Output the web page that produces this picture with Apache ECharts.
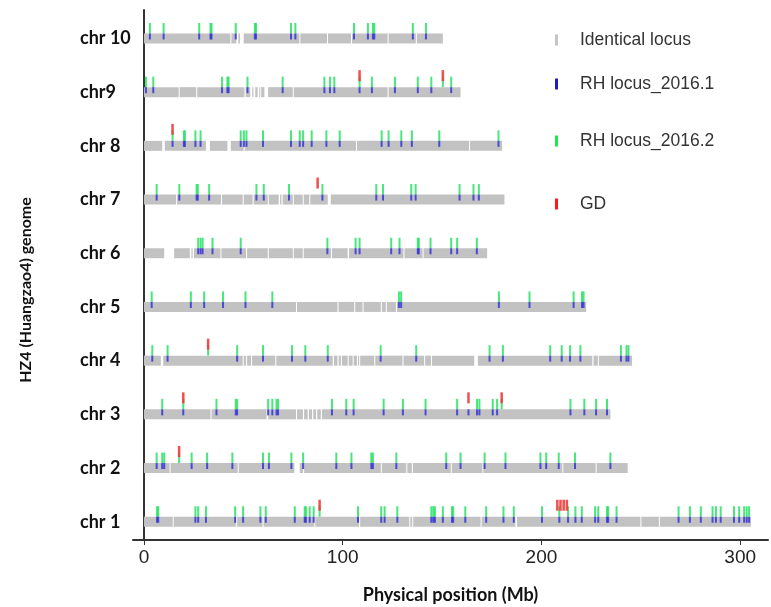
<!DOCTYPE html>
<html>
<head>
<meta charset="utf-8">
<script src="https://cdn.jsdelivr.net/npm/echarts@6/dist/echarts.min.js"></script>
<style>
  html, body { margin: 0; padding: 0; background: #fff; }
  #chart { width: 771px; height: 607px; }
</style>
</head>
<body>
<div id="chart"></div>
<script>
// chromosome labels, bottom (chr 1) to top (chr 10)
var chrNames = ["chr 1", "chr 2", "chr 3", "chr 4", "chr 5", "chr 6", "chr 7", "chr 8", "chr9", "chr 10"];
var xTicks = [0, 100, 200, 300];
var legendNames = ["Identical locus", "RH locus_2016.1", "RH locus_2016.2", "GD"];

// identical locus blocks [start, end] in Mb, one list per chromosome
var segments = [
  [[0,14.5],[15,46.4],[46.9,59.7],[60.2,85.7],[86.2,108.3],[108.8,133.5],[134,135],[135.5,169.4],[169.9,186.9],[187.7,249.8],[250.3,259.1],[259.6,305.4]],
  [[0,12.9],[13.4,47.2],[47.7,75.7],[78.4,80],[80.6,119.2],[119.7,132],[132.5,134.8],[135.3,154.4],[154.9,170.3],[170.8,210.5],[211,227.3],[227.8,243.4]],
  [[0,33.5],[34,61.7],[62.5,76.5],[77,80],[80.6,82.4],[83,84.6],[85.2,86.6],[87.2,89],[89.6,234.7]],
  [[0,8.5],[9.7,49.7],[50.2,51.4],[51.9,53.9],[54.4,66.1],[66.6,95],[95.6,97.4],[98,99.1],[99.6,102.5],[103,105],[105.5,107.2],[107.7,108.3],[108.8,115.9],[116.4,130.1],[130.6,141],[141.5,144.4],[144.9,166.2],[168,225.6],[226.2,228.4],[228.9,245.6]],
  [[0,76.5],[77,97.4],[97.9,105.8],[106.3,110],[110.5,119.2],[119.7,121.7],[122.2,126.8],[127.3,222.5]],
  [[0,10.2],[15.2,23.1],[23.9,24.5],[25.2,38.5],[39,51.4],[51.9,62.3],[62.8,74.9],[75.4,79.9],[80.4,94.1],[94.6,102.5],[103.2,130.6],[131.1,140.2],[140.7,172.7]],
  [[0,16.2],[16.7,38.8],[39.3,49.7],[50.2,54.7],[55.2,62.3],[62.8,67.8],[68.5,69.2],[69.8,74.9],[75.4,79.9],[80.4,83.2],[83.7,92.5],[94,181.4]],
  [[0,9.2],[10.5,31.2],[33.2,42],[43.7,50.2],[50.7,106.7],[107.2,163.6],[164.1,180.2]],
  [[0,17.5],[18,26.3],[26.8,50.6],[51.2,53.5],[54.5,55.1],[56,57.2],[58,58.4],[59,60.6],[62.5,74.9],[75.4,122.6],[123.1,159.3]],
  [[0,43.5],[44,46.5],[47.5,48.3],[50.2,78.2],[78.7,92.1],[92.6,104.2],[104.7,122.6],[123.1,136.8],[137.3,150.4]]
];

// RH loci found in both 2016.1 and 2016.2 (Mb)
var rhLoci = [
  [6.6,7.2,25.9,27.3,31.2,45.9,49.9,58.6,61.3,75.9,80.9,81.5,83.4,85.4,107.7,119.4,121.1,127.5,144.6,145.6,146.4,150.4,155,155.6,161.7,172.2,180.9,186.1,200.3,209,213.4,217.1,220.3,227,228.6,233,233.6,237.8,269,274.7,280.2,286.1,287.8,290.2,296.9,299.5,302,303.3,304.5],
  [6.4,9.2,10.2,24,31.8,44.5,59.9,62.9,74.2,80.1,96.8,104.4,114.4,115.2,127,152.1,159.3,171.4,181.9,199.5,202.4,208.7,216.9,234.7],
  [9.2,19.8,36.5,46.2,46.9,62.5,64.6,66.7,67.5,94.6,101.8,105.5,120.6,130.3,141.7,157.6,167.6,168.8,175.5,177.7,214.6,221.6,227.5,233],
  [4.2,11.9,46.9,59.9,74.5,81.2,92.5,119.1,137,173.9,180.6,204.4,210.2,214.4,219.6,240,242.8,243.8],
  [3.9,23.6,30.3,39.8,51.1,64.6,128.3,129.4,178.6,194,216.2,220.4,221.2],
  [27.3,28.5,29.5,34.5,48.7,92.3,106.5,108.5,124.4,128.6,137.8,138.3,144.2,154.6,157.6,167.5],
  [6.4,17.8,26.5,27.1,32.8,56.6,60.3,73,89.8,116.9,120.3,134.5,136.7,158.8,165.8,168.5],
  [14.4,20.1,20.6,25.9,28.5,48.7,50.3,51.6,59.9,74,78.4,80.1,84.4,91.8,98.5,119.6,123.1,129.5,134.8,148.6,178.4],
  [1,4.7,39.3,42,42.6,52.1,69.8,90.8,93.6,95.8,108.5,114.7,126.3,137.8,144.6,154.6],
  [3,9.9,27.8,33.5,34,46.2,55.8,56.4,74,76.2,105.7,112.7,115.2,115.9,135.3,141.9]
];
// loci only in one of the RH sets
var rh1Only = [[], [], [163.3], [], [], [], [], [], [], []];
var rh2Only = [[88.4], [17.7], [180], [32.3], [], [], [], [], [150.4], []];
// GD loci
var gdLoci = [[88.4,208,209.6,211.2,212.8], [17.7], [19.8,163.3,180], [32.3], [], [], [87.4], [14.4], [108.5,150.4], []];

var segData = [], rh1Data = [], rh2Data = [], gdData = [];
for (var i = 0; i < chrNames.length; i++) {
  var y = i + 1;
  segments[i].forEach(function (s) { segData.push([s[0], s[1], y]); });
  rhLoci[i].concat(rh1Only[i]).forEach(function (p) { rh1Data.push([p, y]); });
  rhLoci[i].concat(rh2Only[i]).forEach(function (p) { rh2Data.push([p, y]); });
  gdLoci[i].forEach(function (p) { gdData.push([p, y]); });
}

// draws a vertical tick from dy1 to dy2 pixels relative to the chromosome centre
function tickRenderer(w, dy1, dy2, color) {
  return function (params, api) {
    var c = api.coord([api.value(0), api.value(1)]);
    return {
      type: "rect",
      shape: { x: c[0] - w / 2, y: c[1] + dy1, width: w, height: dy2 - dy1 },
      style: { fill: color }
    };
  };
}

var chart = echarts.init(document.getElementById("chart"));
chart.setOption({
  animation: false,
  backgroundColor: "#fff",
  grid: { left: 133, right: 3, top: 10, bottom: 67, outerBoundsMode: "none" },
  legend: legendNames.map(function (n, i) {
    var tops = [31, 75, 132, 195];
    return {
      data: [n],
      left: 555,
      top: tops[i],
      padding: 0,
      icon: "rect",
      itemWidth: 3,
      itemHeight: 11,
      selectedMode: false,
      textStyle: { fontFamily: "Liberation Sans", fontSize: 17.5, color: "#333", padding: [0, 0, 0, 17] }
    };
  }),
  xAxis: {
    type: "value",
    min: -5.5,
    max: 314,
    name: "Physical position (Mb)",
    nameLocation: "middle",
    nameGap: 46,
    nameTextStyle: { fontFamily: "Lato", fontWeight: "bold", fontSize: 18, color: "#111" },
    axisLine: { show: true, lineStyle: { color: "#333", width: 2 } },
    axisTick: { show: true, customValues: xTicks, length: 5, lineStyle: { color: "#333" } },
    axisLabel: { customValues: xTicks, fontFamily: "Liberation Sans", fontSize: 19, color: "#222", margin: 8 },
    splitLine: { show: false }
  },
  yAxis: {
    type: "value",
    min: 0.66,
    max: 10.53,
    name: "HZ4 (Huangzao4) genome",
    nameLocation: "middle",
    nameGap: 99,
    nameTextStyle: { fontFamily: "Lato", fontWeight: "bold", fontSize: 16, color: "#111", padding: [0, 30, 0, 0] },
    axisLine: { show: true, lineStyle: { color: "#333", width: 2 } },
    axisTick: { show: false },
    axisLabel: {
      customValues: chrNames.map(function (n, i) { return i + 1; }),
      formatter: function (v) { return chrNames[Math.round(v) - 1]; },
      align: "left",
      margin: 53,
      fontFamily: "Lato",
      fontWeight: "bold",
      fontSize: 18,
      color: "#111"
    },
    splitLine: { show: false }
  },
  series: [
    {
      name: "Identical locus",
      type: "custom",
      itemStyle: { color: "#c4c4c4" },
      encode: { x: [0, 1], y: 2 },
      data: segData,
      renderItem: function (params, api) {
        var s = api.coord([api.value(0), api.value(2)]);
        var e = api.coord([api.value(1), api.value(2)]);
        return {
          type: "rect",
          shape: { x: s[0], y: s[1] - 5, width: Math.max(e[0] - s[0], 1), height: 10 },
          style: { fill: "#c2c2c2" }
        };
      }
    },
    {
      name: "RH locus_2016.2",
      type: "custom",
      itemStyle: { color: "#1ee84a" },
      encode: { x: 0, y: 1 },
      data: rh2Data,
      renderItem: tickRenderer(2, -15.5, -5, "rgba(40,226,100,0.85)")
    },
    {
      name: "RH locus_2016.1",
      type: "custom",
      itemStyle: { color: "#1c1cc8" },
      encode: { x: 0, y: 1 },
      data: rh1Data,
      renderItem: tickRenderer(2, -5, 1, "rgba(52,52,214,0.85)")
    },
    {
      name: "GD",
      type: "custom",
      itemStyle: { color: "#ff1a1a" },
      encode: { x: 0, y: 1 },
      data: gdData,
      renderItem: tickRenderer(2.5, -22, -11, "rgba(240,60,60,0.9)")
    }
  ]
});
</script>
</body>
</html>
